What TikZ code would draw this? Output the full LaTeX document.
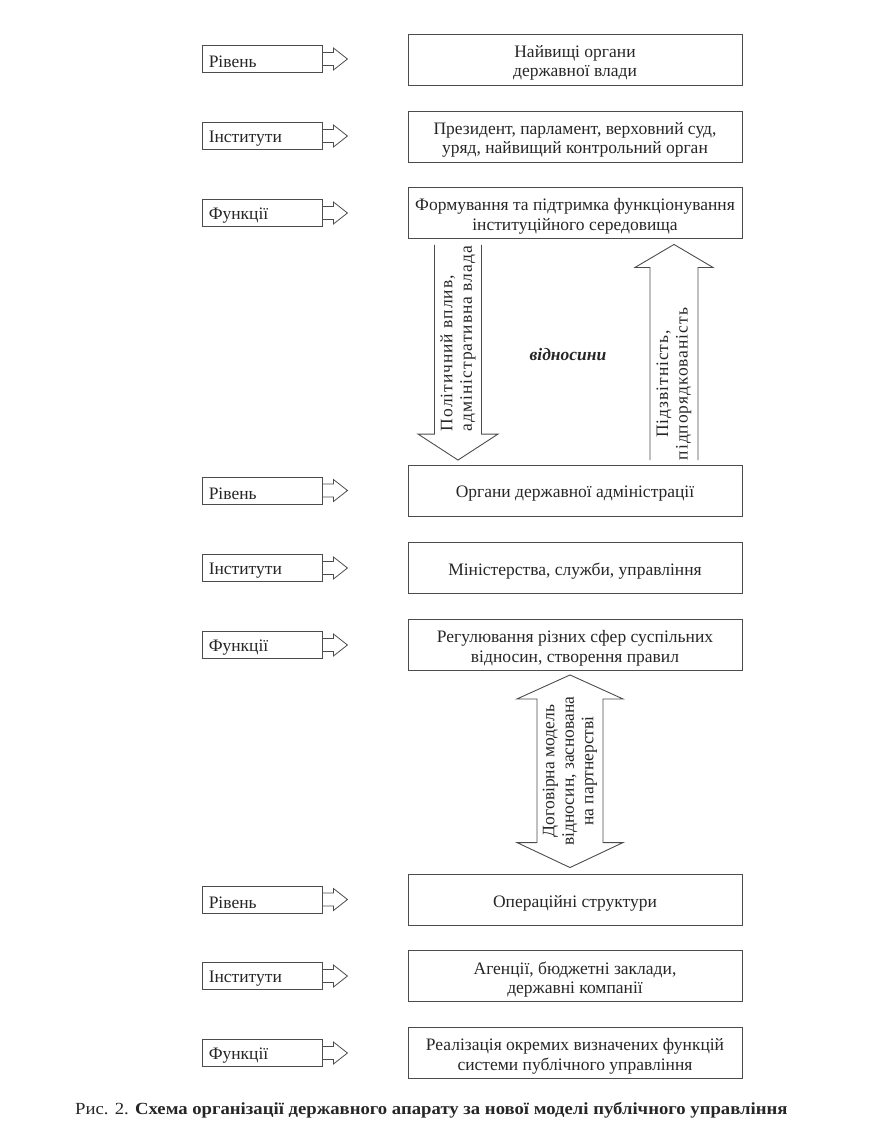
\documentclass[tikz,border=0pt]{standalone}
\usepackage{fontspec}
\setmainfont{Liberation Serif}
\newcommand\mybox[3]{\node[box] (#1) at (#2) {};\node[btxt] (#1t) at ([yshift=-3.5pt]#1.center) {#3};}
\newcommand\mylbl[3]{\node[lbl] (#1) at (#2) {};\node[ltxt] (#1t) at ([xshift=7pt,yshift=-3pt]#1.west) {#3};}
\begin{document}
\begin{tikzpicture}[x=1pt,y=-1pt,
  txt/.style={font=\fontsize{17.5}{19.5}\selectfont, text=black!85},
  box/.style={draw=black!70, line width=0.9pt, minimum width=334pt, minimum height=51pt, inner sep=0pt},
  btxt/.style={txt, align=center, inner sep=0pt},
  lbl/.style={draw=black!70, line width=0.9pt, minimum width=120pt, minimum height=27pt, inner sep=0pt},
  ltxt/.style={txt, anchor=west, inner sep=0pt},
  ptr/.style={draw=black!70, line width=0.8pt, line join=miter},
  big/.style={draw=black!70, line width=0.9pt, line join=miter},
  rot/.style={txt, rotate=90, align=center, inner sep=0pt},
  rotsp/.style={rot, font=\fontsize{17.5}{19.5}\selectfont\addfontfeature{LetterSpace=5.5}}
]
\useasboundingbox (0,0) rectangle (874,1142);

% right boxes
\mybox{b1}{575,59.5}{Найвищі органи\\державної влади}
\mybox{b2}{575,136.5}{Президент, парламент, верховний суд,\\уряд, найвищий контрольний орган}
\mybox{b3}{575,213}{Формування та підтримка функціонування\\інституційного середовища}
\mybox{b4}{575,490.5}{Органи державної адміністрації}
\mybox{b5}{575,568}{Міністерства, служби, управління}
\mybox{b6}{575,645}{Регулювання різних сфер суспільних\\відносин, створення правил}
\mybox{b7}{575,899.5}{Операційні структури}
\mybox{b8}{575,976}{Агенції, бюджетні заклади,\\державні компанії}
\mybox{b9}{575,1053}{Реалізація окремих визначених функцій\\системи публічного управління}

% left labels
\mylbl{l1}{262,59}{Рівень}
\mylbl{l2}{262,136}{Інститути}
\mylbl{l3}{262,213}{Функції}
\mylbl{l4}{262,490.5}{Рівень}
\mylbl{l5}{262,568}{Інститути}
\mylbl{l6}{262,645}{Функції}
\mylbl{l7}{262,899.5}{Рівень}
\mylbl{l8}{262,976}{Інститути}
\mylbl{l9}{262,1053}{Функції}

\foreach \n in {l1,l2,l3,l4,l5,l6,l7,l8,l9}{
  \draw[ptr] ([yshift=6.5pt]\n.east) -- ++(11,0) -- ++(0,-4.5) -- ([xshift=25pt]\n.east) -- ++(-14,11) -- ++(0,-4.5) -- ([yshift=-6.5pt]\n.east);
}

% down arrow b3 -> b4
\coordinate (dtop) at ([xshift=-117pt,yshift=-6pt]b3.south);
\coordinate (dtip) at ([xshift=-117pt,yshift=4.5pt]b4.north);
\draw[big] ([xshift=-23.5pt]dtop) -- ([xshift=-23.5pt,yshift=26pt]dtip) -- ([xshift=-40pt,yshift=26pt]dtip) -- (dtip)
  -- ([xshift=40pt,yshift=26pt]dtip) -- ([xshift=23.5pt,yshift=26pt]dtip) -- ([xshift=23.5pt]dtop);
\node[rotsp, text width=186pt, align=justify] (tdown) at (458,338) {Політичний вплив,\\адміністративна влада};

% up arrow b4 -> b3
\coordinate (ubot) at ([xshift=99pt,yshift=4.5pt]b4.north);
\coordinate (utip) at ([xshift=99pt,yshift=-5.5pt]b3.south);
\draw[big] ([xshift=-24pt]ubot) -- ([xshift=-24pt,yshift=-23pt]utip) -- ([xshift=-39pt,yshift=-23pt]utip) -- (utip)
  -- ([xshift=39pt,yshift=-23pt]utip) -- ([xshift=24pt,yshift=-23pt]utip) -- ([xshift=24pt]ubot);
\node[rotsp] (tup) at (674,384) {Підзвітність,\\підпорядкованість};

\node[txt, font=\fontsize{17.5}{19.5}\selectfont\bfseries\itshape] (rel) at (568,355) {відносини};

% double arrow b6 <-> b7
\coordinate (ttop) at ([xshift=-5pt,yshift=-4pt]b6.south);
\coordinate (tbot) at ([xshift=-5pt,yshift=6pt]b7.north);
\draw[big] (ttop) -- ([xshift=53pt,yshift=-24pt]ttop) -- ([xshift=33pt,yshift=-24pt]ttop) -- ([xshift=33pt,yshift=25pt]tbot)
  -- ([xshift=53pt,yshift=25pt]tbot) -- (tbot) -- ([xshift=-53pt,yshift=25pt]tbot) -- ([xshift=-33pt,yshift=25pt]tbot)
  -- ([xshift=-33pt,yshift=-24pt]ttop) -- ([xshift=-53pt,yshift=-24pt]ttop) -- cycle;
\node[rot] (tdbl) at (570,771) {Договірна модель\\відносин, заснована\\на партнерстві};

% caption
\node[txt, anchor=west, font=\fontsize{17}{19}\selectfont, inner sep=0pt] (cap) at (75,1110) {\scalebox{1.1}[1]{Рис. 2. \textbf{Схема організації державного апарату за нової моделі публічного управління}}};
\end{tikzpicture}
\end{document}
